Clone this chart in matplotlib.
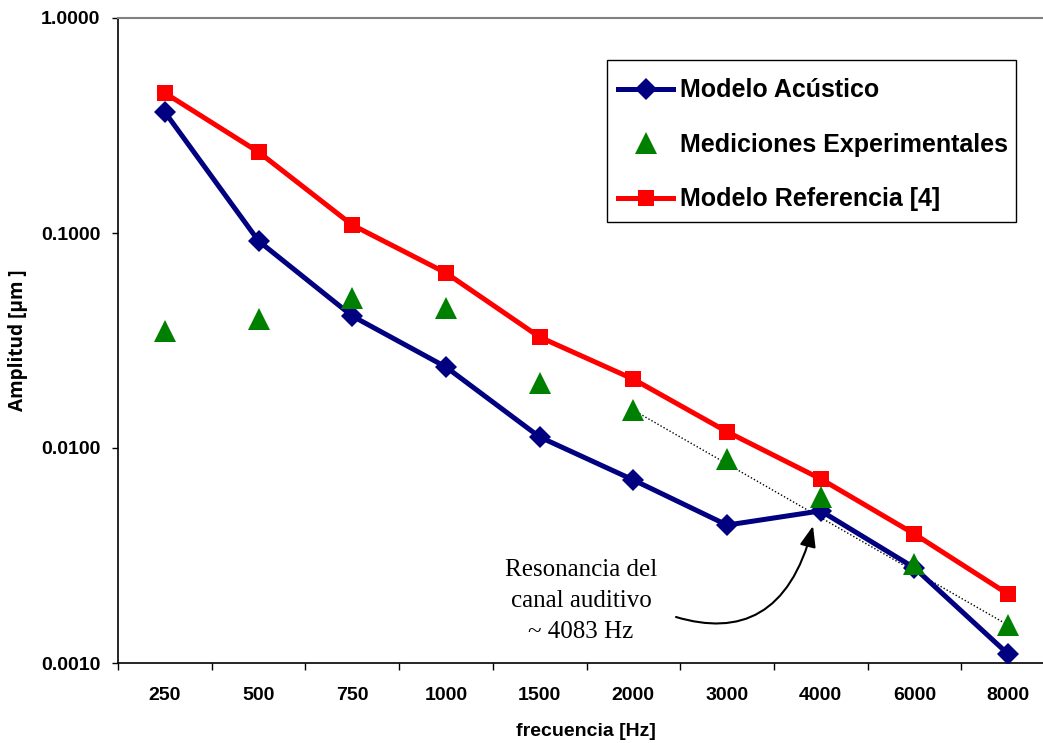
import matplotlib
matplotlib.use("Agg")
import matplotlib.pyplot as plt
from matplotlib.patches import FancyArrowPatch, Rectangle
from matplotlib.path import Path
import numpy as np

# ---- data ----
frequencies = ["250", "500", "750", "1000", "1500", "2000", "3000", "4000", "6000", "8000"]
modelo_acustico = [0.365, 0.0918, 0.0411, 0.0238, 0.01125, 0.0071, 0.00438, 0.0051, 0.00277, 0.0011]
mediciones = [0.035, 0.040, 0.050, 0.045, 0.020, 0.015, 0.0089, 0.0059, 0.0029, 0.0015]
modelo_referencia = [0.448, 0.238, 0.109, 0.0652, 0.0328, 0.0209, 0.0119, 0.00718, 0.00398, 0.00209]
ytick_values = [0.001, 0.01, 0.1, 1.0]

W, H = 1043, 743
fig = plt.figure(figsize=(W / 100, H / 100), dpi=100)
fig.patch.set_facecolor("white")

ax_l, ax_r, ax_t, ax_b = 118, 1055, 18, 663
ax = fig.add_axes([ax_l / W, 1 - ax_b / H, (ax_r - ax_l) / W, (ax_b - ax_t) / H])

x = np.arange(len(frequencies))

ax.plot(x, modelo_acustico, color="#000080", lw=3.6, marker="D", markersize=11,
        markeredgewidth=0, label="Modelo Acústico", zorder=3)
ax.plot(x, mediciones, linestyle="none", color="#008000", marker="^", markersize=16,
        markeredgewidth=0, label="Mediciones Experimentales", zorder=4)
ax.plot(x, modelo_referencia, color="#FF0000", lw=3.6, marker="s", markersize=11,
        markeredgewidth=0, label="Modelo Referencia [4]", zorder=3)

# dotted trend line between experimental points at 2000 and 8000 Hz
ax.plot([x[5], x[9]], [mediciones[5], mediciones[9]], color="black", lw=1.0,
        linestyle=(0, (1, 1.5)), zorder=2)

ax.set_yscale("log")
ax.set_ylim(0.001, 1.0)
ax.set_xlim(-0.5, len(frequencies) - 0.5)

ax.set_yticks(ytick_values)
ax.set_yticklabels([f"{v:.4f}" for v in ytick_values])
ax.yaxis.set_minor_locator(matplotlib.ticker.NullLocator())
ax.tick_params(axis="y", which="major", direction="out", length=4.3, width=1.0,
               pad=8.5, labelsize=14)

ax.set_xticks(np.arange(len(frequencies) + 1) - 0.5)
ax.set_xticklabels([])
ax.set_xticks(x, minor=True)
ax.set_xticklabels(frequencies, minor=True)
ax.tick_params(axis="x", which="major", direction="out", length=5, width=1.0)
ax.tick_params(axis="x", which="minor", length=0, pad=17.5, labelsize=14)

for lbl in ax.get_xticklabels(minor=True) + ax.get_yticklabels():
    lbl.set_fontweight("bold")
    lbl.set_fontfamily("Liberation Sans")

ax.spines["left"].set_color("black")
ax.spines["bottom"].set_color("black")
ax.spines["left"].set_linewidth(1.2)
ax.spines["bottom"].set_linewidth(1.2)
ax.spines["top"].set_color("#808080")
ax.spines["right"].set_color("#808080")
ax.spines["top"].set_linewidth(1.5)

ax.set_xlabel("frecuencia [Hz]", fontsize=14, fontweight="bold", family="Liberation Sans")
ax.xaxis.set_label_coords((586 - ax_l) / (ax_r - ax_l), -(732 - ax_b) / (ax_b - ax_t))
ax.xaxis.label.set_va("center")

ax.set_ylabel("Amplitud [µm ]", fontsize=13.7, fontweight="bold", family="Open Sans")
ax.yaxis.set_label_coords(-(ax_l - 18) / (ax_r - ax_l), 0.5)
ax.yaxis.label.set_va("center")

# legend frame drawn separately so its box matches the reference
frame = Rectangle((607 / W, 1 - 222 / H), (1016 - 607) / W, (222 - 60) / H,
                  transform=fig.transFigure, facecolor="white", edgecolor="black",
                  lw=1.0, zorder=5, clip_on=False)
ax.add_patch(frame)

leg = ax.legend(loc="upper left", bbox_to_anchor=(607 / W, 1 - 67 / H),
                bbox_transform=fig.transFigure, borderaxespad=0,
                frameon=False,
                prop={"family": "Liberation Sans", "weight": "bold", "size": 18},
                handlelength=2.2, handletextpad=0.27, labelspacing=1.22,
                borderpad=0.45)
leg.set_zorder(6)

# annotation
fig.text(581 / W, 1 - 601 / H, "Resonancia del\ncanal auditivo\n~ 4083 Hz",
         ha="center", va="center", fontsize=18, family="Liberation Serif",
         linespacing=1.5)


def fp(px, py):
    return (px / W, 1 - py / H)


verts = [fp(676, 617), fp(740, 636), fp(790, 615), fp(813, 526)]
codes = [Path.MOVETO, Path.CURVE4, Path.CURVE4, Path.CURVE4]
arrow = FancyArrowPatch(path=Path(verts, codes), transform=fig.transFigure,
                        arrowstyle="-|>,head_length=0.9,head_width=0.35",
                        mutation_scale=14, color="black", lw=1.5)
fig.patches.append(arrow)

fig.savefig("out.png", dpi=100, facecolor="white")
